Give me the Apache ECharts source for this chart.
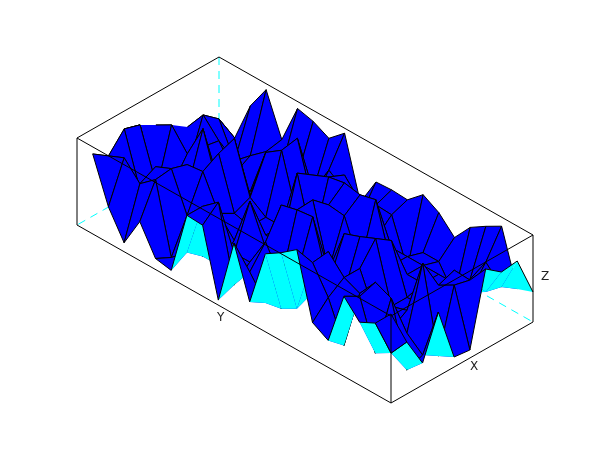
<!DOCTYPE html>
<html><head><meta charset="utf-8">
<script src="https://cdn.jsdelivr.net/npm/echarts@6/dist/echarts.min.js"></script>
<style>html,body{margin:0;background:#fff}#c{width:610px;height:460px}</style></head>
<body><div id="c"></div>
<script>
// surface heights, one list per Y-row step j, indexed by i (0..20)
const row0=[89,71,63,80,27,36,100,88,78,21,71,5,71,72,8,11,39,9,36,80,null];
const row1=[52,32,23,71,13,52,78,23,14,11,33,11,85,72,17,3,72,59,76,69,62];
const row2=[22,6,69,76,56,63,80,30,39,25,54,25,25,4,4,36,74,67,35,87,51];
const row3=[64,12,25,20,25,63,30,30,88,86,82,30,68,20,38,71,69,25,33,82,69];
const row4=[10,2,86,30,25,84,77,71,25,87,25,25,25,25,29,80,20,25,20,5,64];
const row5=[8,64,55,25,25,73,30,30,71,73,25,87,25,25,36,86,25,78,44,64,55];
const row6=[80,60,61,30,30,30,30,87,83,86,83,76,25,83,72,20,10,15,42,10,46];
const row7=[68,39,30,30,30,30,30,30,30,58,76,25,30,86,30,30,6,15,39,56,35];
const row8=[70,35,51,25,0,25,25,0,45,46,25,43,54,25,30,30,37,24,10,43,25];
const row9=[30,24,78,69,59,40,56,65,51,52,51,22,82,68,76,80,40,81,56,15,25];
const Z=[row0,row1,row2,row3,row4,row5,row6,row7,row8,row9];
const blueCells=["0,0"];
const axisNames=["X","Y","Z"];
const zMax=87,nI=20,nJ=9;
function proj(u,v,h){return [391-314*u+142*v,403-178*u-81*v-h];}
function node(i,j){return proj(i/nI,j/nJ,Z[j][i]);}
function area(p){let a=0;for(let k=0;k<4;k++){const q=p[k],r=p[(k+1)%4];a+=q[0]*r[1]-r[0]*q[1];}return a;}
const cells=[],noStroke=new Set();
const ek=(a,b,c,d)=>a+','+b+'-'+c+','+d;
for(let j=0;j<nJ;j++)for(let i=0;i<nI;i++){
  if([Z[j][i],Z[j][i+1],Z[j+1][i],Z[j+1][i+1]].some(v=>v===null))continue;
  const p=[node(i,j),node(i+1,j),node(i+1,j+1),node(i,j+1)];
  const flat=[proj(i/nI,j/nJ,0),proj((i+1)/nI,j/nJ,0),proj((i+1)/nI,(j+1)/nJ,0),proj(i/nI,(j+1)/nJ,0)];
  let under=area(p)*area(flat)<0&&(i<2||j<2);
  if(blueCells.includes(i+','+j))under=false;
  if(under){noStroke.add(ek(i+1,j,i+1,j+1));noStroke.add(ek(i,j+1,i+1,j+1));}
  cells.push({i,j,under});
}
for(let j=0;j<nJ;j++)noStroke.add(ek(nI,j,nI,j+1));
cells.sort((a,b)=>(b.i+b.j)-(a.i+a.j));
const cellData=cells.map((c,n)=>[n,0]);
const corners={A:proj(1,0,zMax),B:proj(1,1,zMax),C:proj(0,1,zMax),D:proj(0,0,zMax),
 a:proj(1,0,0),b:proj(1,1,0),c:proj(0,1,0),d:proj(0,0,0)};
const solid=[["A","B"],["B","C"],["C","D"],["D","A"],["A","a"],["a","d"],["d","c"],["c","C"],["D","d"]];
const dashed=[["B","b"],["b","a"],["b","c"]];
function segSeries(list,style,z){return {type:'custom',coordinateSystem:'cartesian2d',silent:true,z,
  data:list.map((s,n)=>[n,0]),clip:false,
  renderItem(params,api){const s=list[api.value(0)];const a=api.coord(corners[s[0]]),b=api.coord(corners[s[1]]);
    return {type:'line',shape:{x1:a[0],y1:a[1],x2:b[0],y2:b[1]},style};}};}
const chart=echarts.init(document.getElementById('c'),null,{renderer:'canvas'});
chart.setOption({animation:false,backgroundColor:'#fff',
 grid:{left:0,right:0,top:0,bottom:0},
 xAxis:{type:'value',min:0,max:610,show:false},
 yAxis:{type:'value',min:0,max:460,inverse:true,show:false},
 series:[
  segSeries(dashed,{stroke:'#00ffff',lineWidth:1,lineDash:[8,6],fill:null},1),
  {type:'custom',coordinateSystem:'cartesian2d',silent:true,z:2,clip:false,data:cellData,
   renderItem(params,api){
    const c=cells[api.value(0)],i=c.i,j=c.j;
    const ids=[[i,j],[i+1,j],[i+1,j+1],[i,j+1]];
    const pts=ids.map(n=>api.coord(node(n[0],n[1])));
    const children=[{type:'polygon',shape:{points:pts},style:{fill:c.under?'#00ffff':'#0000ff',stroke:null}}];
    for(let k=0;k<4;k++){const a=ids[k],b=ids[(k+1)%4];
      const key=(a[0]+a[1]<=b[0]+b[1])?ek(a[0],a[1],b[0],b[1]):ek(b[0],b[1],a[0],a[1]);
      if(noStroke.has(key))continue;
      children.push({type:'line',shape:{x1:pts[k][0],y1:pts[k][1],x2:pts[(k+1)%4][0],y2:pts[(k+1)%4][1]},style:{stroke:'#000',lineWidth:1}});}
    return {type:'group',children};}},
  segSeries(solid,{stroke:'#000',lineWidth:1,fill:null},3)
 ],
 graphic:[
  {type:'text',x:470,y:361,style:{text:axisNames[0],font:'12px "DejaVu Sans"',fill:'#222'}},
  {type:'text',x:217,y:312,style:{text:axisNames[1],font:'12px "DejaVu Sans"',fill:'#222'}},
  {type:'text',x:541,y:271,style:{text:axisNames[2],font:'12px "DejaVu Sans"',fill:'#222'}}
 ]});
</script></body></html>
